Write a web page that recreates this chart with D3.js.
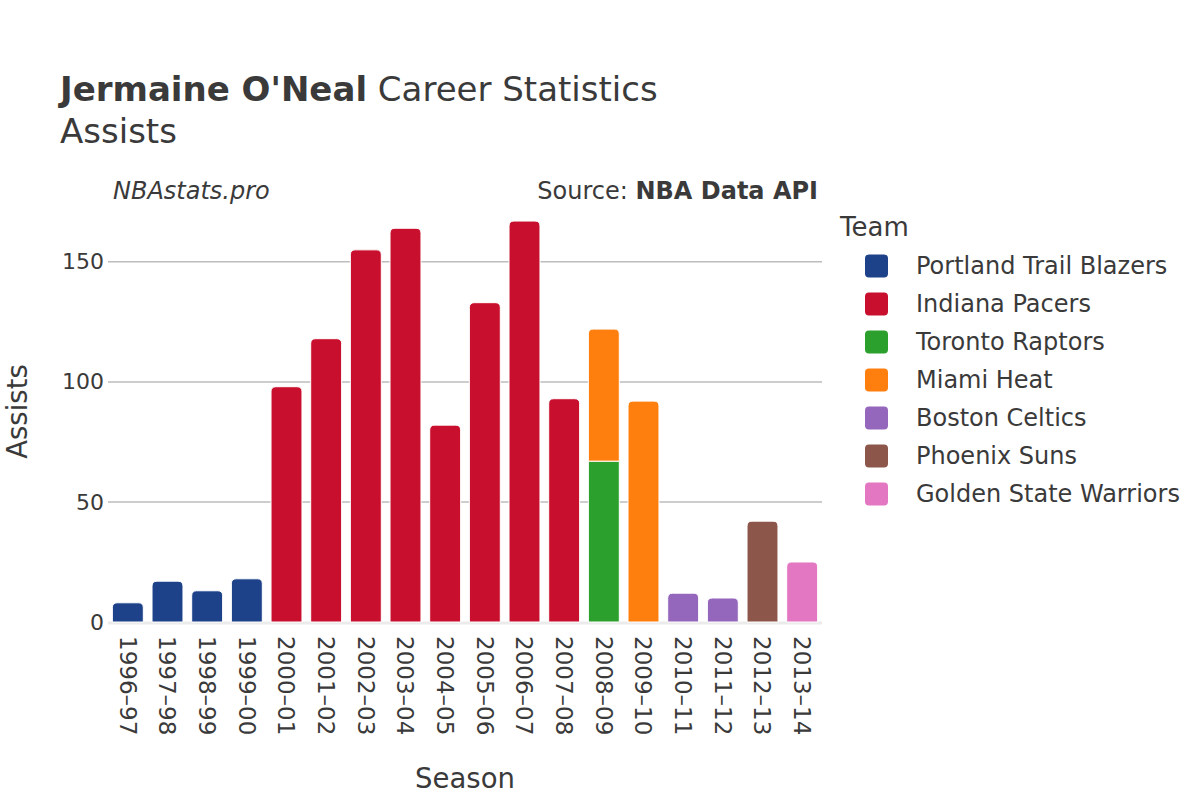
<!DOCTYPE html>
<html><head><meta charset="utf-8">
<script src="https://cdn.jsdelivr.net/npm/d3@7"></script>
<style>body{margin:0;background:#fff;} text{font-family:"DejaVu Sans",sans-serif;}</style>
</head><body>
<svg id="chart" width="1200" height="800"></svg>
<script>
const seasons = ["1996–97","1997–98","1998–99","1999–00","2000–01","2001–02","2002–03","2003–04","2004–05","2005–06","2006–07","2007–08","2008–09","2009–10","2010–11","2011–12","2012–13","2013–14"];
const teams = ["Portland Trail Blazers","Indiana Pacers","Toronto Raptors","Miami Heat","Boston Celtics","Phoenix Suns","Golden State Warriors"];
const teamColors = ["#1d428a","#c8102e","#2ca02c","#ff7f0e","#9467bd","#8c564b","#e377c2"];
// one entry per bar segment: season, team, assists
const barSeason = ["1996–97","1997–98","1998–99","1999–00","2000–01","2001–02","2002–03","2003–04","2004–05","2005–06","2006–07","2007–08","2008–09","2008–09","2009–10","2010–11","2011–12","2012–13","2013–14"];
const barTeam = ["Portland Trail Blazers","Portland Trail Blazers","Portland Trail Blazers","Portland Trail Blazers","Indiana Pacers","Indiana Pacers","Indiana Pacers","Indiana Pacers","Indiana Pacers","Indiana Pacers","Indiana Pacers","Indiana Pacers","Toronto Raptors","Miami Heat","Miami Heat","Boston Celtics","Boston Celtics","Phoenix Suns","Golden State Warriors"];
const barValue = [8,17,13,18,98,118,155,164,82,133,167,93,67,55,92,12,10,42,25];
const yTicks = [0,50,100,150];

const svg = d3.select("#chart");
const pLeft = 108, pRight = 822, pTop = 201, pBottom = 622;
const x = d3.scaleBand().domain(seasons).range([pLeft, pRight]).paddingInner(0.22).paddingOuter(0.11);
const yMax = d3.max(seasons, s => d3.sum(barValue.filter((v,i)=>barSeason[i]===s))) * 1.05;
const y = d3.scaleLinear().domain([0, yMax]).range([pBottom, pTop]);
const color = d3.scaleOrdinal().domain(teams).range(teamColors);
const textCol = "#3a3a3a";

// gridlines
svg.append("g").selectAll("line").data(yTicks.filter(t=>t>0)).join("line")
  .attr("x1", pLeft).attr("x2", pRight).attr("y1", d=>y(d)).attr("y2", d=>y(d))
  .attr("stroke", "#bdbdbd").attr("stroke-width", 1.5);
// zero line
svg.append("line").attr("x1", pLeft).attr("x2", pRight).attr("y1", y(0)+1).attr("y2", y(0)+1)
  .attr("stroke", "#ebebeb").attr("stroke-width", 3);

// y axis
const yAxis = svg.append("g").attr("transform", `translate(${pLeft},0)`)
  .call(d3.axisLeft(y).tickValues(yTicks).tickSize(0).tickPadding(4));
yAxis.select(".domain").remove();
yAxis.selectAll("text").attr("font-size", 22).attr("fill", textCol).attr("font-family","DejaVu Sans, sans-serif");

// x axis
const xAxis = svg.append("g").attr("transform", `translate(0,${pBottom})`)
  .call(d3.axisBottom(x).tickSize(0));
xAxis.select(".domain").remove();
xAxis.selectAll("text").attr("font-size", 23).attr("fill", textCol).attr("font-family","DejaVu Sans, sans-serif")
  .attr("transform", "rotate(90)").attr("text-anchor", "start").attr("dy", "0.35em").attr("x", 14).attr("y", 0);

// bars with rounded tops
const stackBase = {};
const segs = barValue.map((v,i) => {
  const s = barSeason[i];
  const b = stackBase[s] || 0;
  stackBase[s] = b + v;
  return {season: s, team: barTeam[i], y0: b, y1: b + v};
});
const topOf = {};
segs.forEach(d => { topOf[d.season] = Math.max(topOf[d.season]||0, d.y1); });
function barPath(d) {
  const x0 = x(d.season), w = x.bandwidth();
  const yt = y(d.y1), yb = y(d.y0);
  const r = (d.y1 === topOf[d.season]) ? Math.min(5, (yb-yt)) : 0;
  return `M${x0},${yb} L${x0},${yt+r} Q${x0},${yt} ${x0+r},${yt} L${x0+w-r},${yt} Q${x0+w},${yt} ${x0+w},${yt+r} L${x0+w},${yb} Z`;
}
svg.append("g").selectAll("path").data(segs).join("path")
  .attr("d", barPath).attr("fill", d => color(d.team))
  .attr("stroke", "#fff").attr("stroke-width", 1);

// titles
const t = svg.append("text").attr("x", 60).attr("y", 101).attr("font-size", 34).attr("fill", textCol);
t.append("tspan").attr("font-weight", "bold").text("Jermaine O'Neal");
t.append("tspan").text(" Career Statistics");
svg.append("text").attr("x", 60).attr("y", 143).attr("font-size", 34).attr("fill", textCol).text("Assists");
svg.append("text").attr("x", 113).attr("y", 199).attr("font-size", 24).attr("font-style", "italic").attr("fill", textCol).text("NBAstats.pro");
const src = svg.append("text").attr("x", 818).attr("y", 199).attr("font-size", 24).attr("text-anchor", "end").attr("fill", textCol);
src.append("tspan").text("Source: ");
src.append("tspan").attr("font-weight", "bold").text("NBA Data API");

// axis titles
svg.append("text").attr("transform", `translate(27,${(pTop+pBottom)/2}) rotate(-90)`).attr("text-anchor", "middle")
  .attr("font-size", 27.5).attr("fill", textCol).text("Assists");
svg.append("text").attr("x", (pLeft+pRight)/2).attr("y", 788).attr("text-anchor", "middle")
  .attr("font-size", 27.5).attr("fill", textCol).text("Season");

// legend
svg.append("text").attr("x", 840).attr("y", 236).attr("font-size", 26).attr("fill", textCol).text("Team");
const lg = svg.append("g").selectAll("g").data(teams).join("g")
  .attr("transform", (d,i) => `translate(865,${266 + i*38})`);
lg.append("rect").attr("x", 0).attr("y", -11.5).attr("width", 23).attr("height", 23).attr("rx", 4)
  .attr("fill", d => color(d));
lg.append("text").attr("x", 51).attr("y", 0).attr("dy", "0.35em").attr("font-size", 24).attr("fill", textCol).text(d => d);
</script>
</body></html>
